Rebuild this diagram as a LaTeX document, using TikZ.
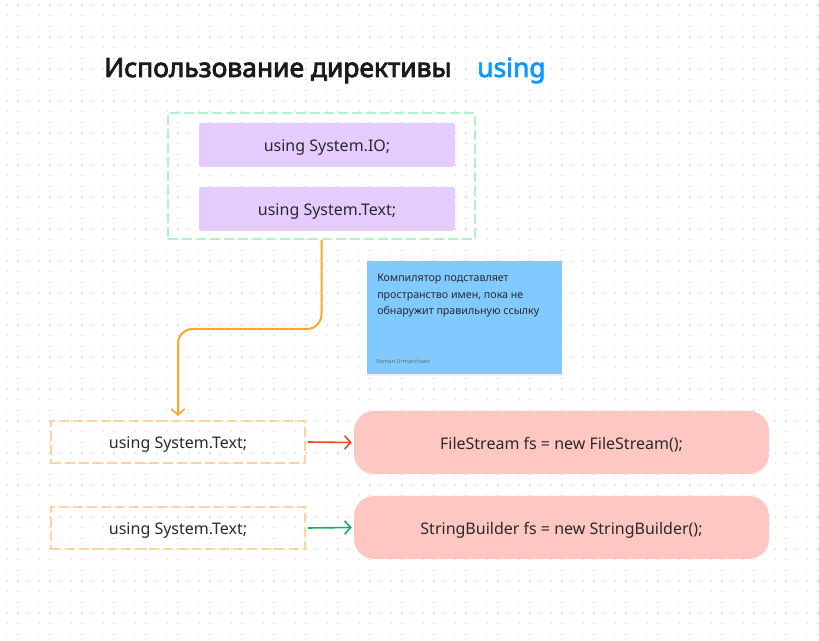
\documentclass[tikz,border=0pt]{standalone}
\usepackage{fontspec}
\setmainfont{Noto Sans}[AutoFakeBold=3]
\usetikzlibrary{arrows.meta,shadows}
\definecolor{dotgray}{HTML}{DCDCDC}
\definecolor{inkdark}{HTML}{2A2A2A}
\definecolor{titleink}{HTML}{1A1A1A}
\definecolor{figblue}{HTML}{0D99FF}
\definecolor{greendash}{HTML}{AFF4C6}
\definecolor{lilac}{HTML}{E4CCFF}
\definecolor{orangeline}{HTML}{FFA629}
\definecolor{orangedash}{HTML}{FFD3A0}
\definecolor{stickyblue}{HTML}{80CAFF}
\definecolor{redline}{HTML}{F24822}
\definecolor{greenline}{HTML}{14AE5C}
\definecolor{salmon}{HTML}{FFC7C2}
\tikzset{
	codefont/.style={text=inkdark, font=\fontsize{12}{14}\selectfont, text height=10pt, text depth=0.2pt},
	usingbox/.style={codefont, fill=lilac, rounded corners=2pt, minimum width=192pt, minimum height=33pt},
	importbox/.style={codefont, draw=orangedash, line width=1.5pt, dash pattern=on 7.5pt off 3pt, minimum width=190.5pt, minimum height=31.5pt},
	codebox/.style={codefont, fill=salmon, rounded corners=15pt, minimum width=311.25pt, minimum height=47.25pt},
	linkarrow/.style={line width=1.2pt, -{Straight Barb[length=4.5pt,width=10pt,line width=1.2pt]}}
}
\begin{document}
\begin{tikzpicture}[x=0.75pt,y=-0.75pt]
	\useasboundingbox[fill=white] (0,0) rectangle (819,641);
	\foreach \i in {0,...,76}
		\foreach \j in {0,...,59}
			\fill[dotgray] (7.33+10.667*\i-0.7,5+10.667*\j-0.7) rectangle ++(1.4,1.4);
	\node[anchor=base west, inner sep=0, text=titleink, font=\fontsize{19.8}{24}\selectfont\bfseries] (title) at (104,77) {Использование директивы};
	\node[anchor=base west, inner sep=0, text=figblue, font=\fontsize{19.8}{24}\selectfont\bfseries] (kw) at (477,77) {using};
	\node[draw=greendash, line width=1.5pt, dash pattern=on 7.5pt off 3pt, minimum width=230.25pt, minimum height=94.5pt] (group) at (321.5,176) {};
	\node[usingbox] (io) at (327,145) {using System.IO;};
	\node[usingbox] (text) at (327,209) {using System.Text;};
	\node[fill=stickyblue, minimum width=146.25pt, minimum height=84.75pt, drop shadow={opacity=0.12, shadow xshift=0pt, shadow yshift=-1.2pt}] (note) at (464.5,317.5) {};
	\node[anchor=north west, inner sep=0, align=left, text=inkdark, font=\fontsize{8}{12.4}\selectfont] (notetext) at (377,274) {Компилятор подставляет\\пространство имен, пока не\\обнаружит правильную ссылку};
	\node[anchor=west, inner sep=0, text=inkdark!70, font=\fontsize{4.2}{5}\selectfont] (author) at (376,361) {Roman Urmanchaev};
	\node[importbox] (use1) at (178,442) {using System.Text;};
	\node[importbox] (use2) at (178,528) {using System.Text;};
	\node[codebox] (code1) at (561.5,442.5) {FileStream fs = new FileStream();};
	\node[codebox] (code2) at (561.5,527.5) {StringBuilder fs = new StringBuilder();};
	\coordinate (bend) at (0,329);
	\draw[linkarrow, draw=orangeline, line width=1.5pt, rounded corners=11pt] (group.south) -- (group.south |- bend) -| ([yshift=3pt]use1.north);
	\draw[linkarrow, draw=redline] ([xshift=1.5pt]use1.east) -- ([xshift=-1.5pt]code1.west);
	\draw[linkarrow, draw=greenline] ([xshift=1.5pt]use2.east) -- ([xshift=-1.5pt]code2.west);
\end{tikzpicture}
\end{document}
